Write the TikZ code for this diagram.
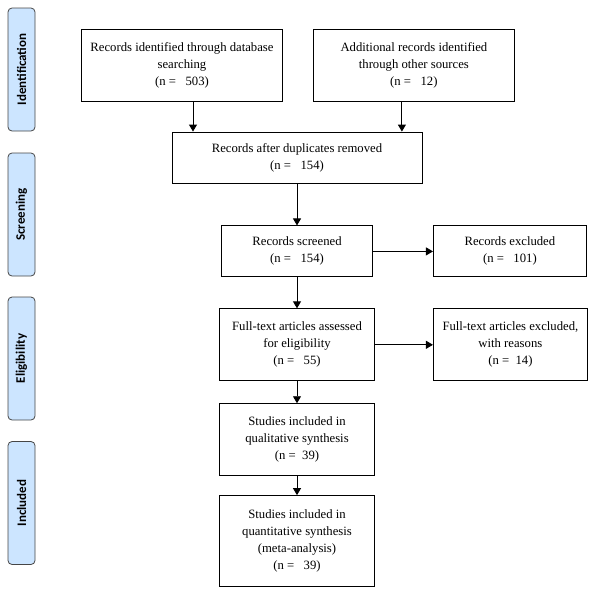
\documentclass[tikz,border=0pt]{standalone}
\usepackage{fontspec}
\setmainfont{Liberation Serif}
\newfontfamily\phasefont{Carlito}
\usetikzlibrary{arrows.meta}
\usetikzlibrary{calc,positioning}

\definecolor{phasefill}{RGB}{204,229,255}
\definecolor{phasedraw}{RGB}{70,70,70}

\begin{document}
\begin{tikzpicture}[x=1pt, y=1pt,
  box/.style={draw, rectangle, line width=0.9pt, align=center, font=\fontsize{12.7}{17}\selectfont, inner sep=2pt},
  phase/.style={draw=phasedraw, fill=phasefill, rounded corners=4pt, rotate=90, line width=0.8pt,
    minimum width=123pt, minimum height=27pt, font=\phasefont\bfseries\fontsize{13}{14}\selectfont},
  arr/.style={-{Triangle[width=8pt,length=7pt]}, line width=0.9pt}]
  \useasboundingbox (0,0) rectangle (592,-590);

  % phases
  \node[phase] (ident) at (21.5,-69.5) {Identification};
  \node[phase] (screen) at (21.5,-214.5) {Screening};
  \node[phase] (elig) at (21.5,-358.5) {Eligibility};
  \node[phase] (incl) at (21.5,-503) {Included};

  % boxes
  \node[box, minimum width=201pt, minimum height=72pt] (db) at (182,-65) {Records identified through database\\ searching\\ (n = \ \ 503)};
  \node[box, minimum width=201pt, minimum height=72pt, right=30pt of db] (other) {Additional records identified\\ through other sources\\ (n = \ \ 12)};
  \node[box, minimum width=250pt, minimum height=51pt] (dup) at (297,-157.5) {Records after duplicates removed\\ (n = \ \ 154)};
  \node[box, minimum width=151pt, minimum height=51pt, below=42pt of dup] (scr) {Records screened\\ (n = \ \ 154)};
  \node[box, minimum width=153pt, minimum height=51pt, right=60pt of scr] (excl) {Records excluded\\ (n = \ \ 101)};
  \node[box, minimum width=155pt, minimum height=72pt, below=31pt of scr] (ft) {Full-text articles assessed\\ for eligibility\\ (n = \ \ 55)};
  \node[box, minimum width=154pt, minimum height=72pt, right=58pt of ft] (ftex) {Full-text articles excluded,\\ with reasons\\ (n = \ 14)};
  \node[box, minimum width=155pt, minimum height=72pt, below=22pt of ft] (qual) {Studies included in\\ qualitative synthesis\\ (n = \ 39)};
  \node[box, minimum width=155pt, minimum height=91pt, below=19pt of qual] (quant) {Studies included in\\ quantitative synthesis\\ (meta-analysis)\\ (n = \ \ 39)};

  % arrows
  \draw[arr] ([xshift=11pt]db.south) -- ([xshift=11pt]db.south |- dup.north);
  \draw[arr] ([xshift=-12pt]other.south) -- ([xshift=-12pt]other.south |- dup.north);
  \draw[arr] (dup) -- (scr);
  \draw[arr] (scr) -- (ft);
  \draw[arr] (scr) -- (excl);
  \draw[arr] (ft) -- (ftex);
  \draw[arr] (ft) -- (qual);
  \draw[arr] (qual) -- (quant);
\end{tikzpicture}
\end{document}
